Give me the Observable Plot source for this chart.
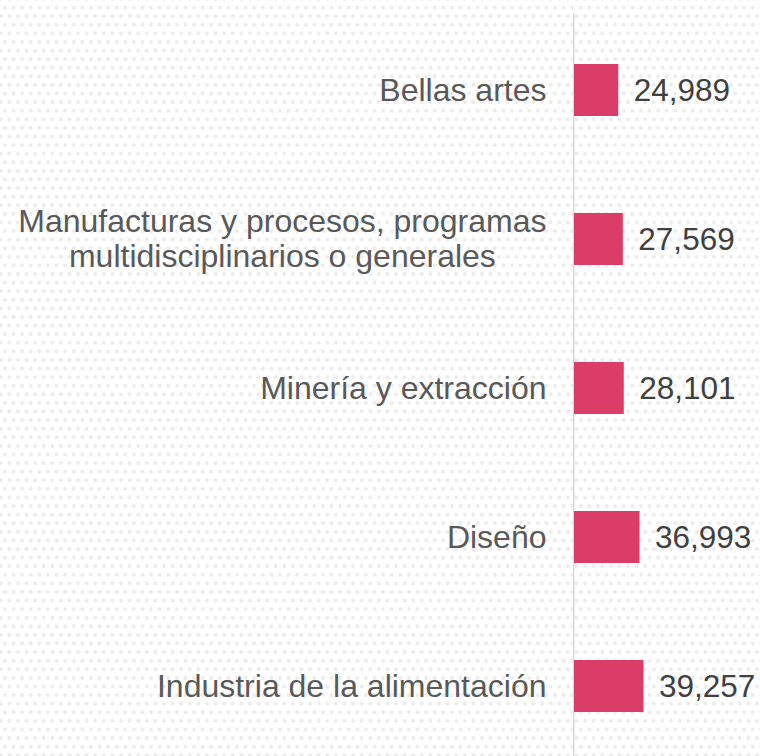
<!DOCTYPE html>
<html>
<head>
<meta charset="utf-8">
<script src="https://cdn.jsdelivr.net/npm/d3@7"></script>
<script src="https://cdn.jsdelivr.net/npm/@observablehq/plot@0.6"></script>
<style>
  html, body { margin: 0; padding: 0; background: #ffffff; }
  #chart {
    width: 760px; height: 756px; overflow: hidden;
    background-color: #ffffff;
    background-image:
      radial-gradient(circle, #ececec 1.7px, rgba(255,255,255,0) 2.3px),
      radial-gradient(circle, #ececec 1.7px, rgba(255,255,255,0) 2.3px);
    background-size: 8.6px 17.2px, 8.6px 17.2px;
    background-position: 0.7px -1px, 5px 7.6px;
  }
</style>
</head>
<body>
<div id="chart"></div>
<script>
const categories = [
  "Bellas artes",
  "Manufacturas y procesos, programas\nmultidisciplinarios o generales",
  "Minería y extracción",
  "Diseño",
  "Industria de la alimentación"
];
const values = [24989, 27569, 28101, 36993, 39257];

const data = categories.map((c, i) => ({category: c, value: values[i]}));
const fmt = d3.format(",");
const font = "'Liberation Sans', Arial, sans-serif";

const chart = Plot.plot({
  width: 760,
  height: 756,
  marginLeft: 574,
  marginRight: 0,
  marginTop: 13,
  marginBottom: 0,
  style: {background: "transparent", fontFamily: font},
  x: {domain: [0, 105000], axis: null},
  y: {domain: categories, range: [13, 762], paddingInner: 0.653, paddingOuter: 0.3265, align: 0.5, axis: null},
  marks: [
    Plot.ruleX([0], {stroke: "#d9d9d9", strokeWidth: 1.5, dx: -0.8}),
    Plot.barX(data, {x: "value", y: "category", fill: "#d93d68"}),
    Plot.text(data, {
      x: 0, y: "category", text: "category",
      textAnchor: "end", dx: -28, dy: -1, fontSize: 32, lineHeight: 1.1,
      fill: "#595959", fontFamily: font, className: "catlabel"
    }),
    Plot.text(data, {
      x: "value", y: "category", text: d => fmt(d.value),
      textAnchor: "start", dx: 15, fontSize: 31.5,
      fill: "#404040", fontFamily: font
    })
  ]
});

document.getElementById("chart").appendChild(chart);

// center lines of multi-line category labels within their block
chart.querySelectorAll(".catlabel text").forEach(t => {
  const spans = t.querySelectorAll("tspan");
  if (spans.length < 2) return;
  const widths = Array.from(spans, s => s.getComputedTextLength());
  const maxW = Math.max(...widths);
  spans.forEach((s, i) => s.setAttribute("dx", -(maxW - widths[i]) / 2));
});
</script>
</body>
</html>
